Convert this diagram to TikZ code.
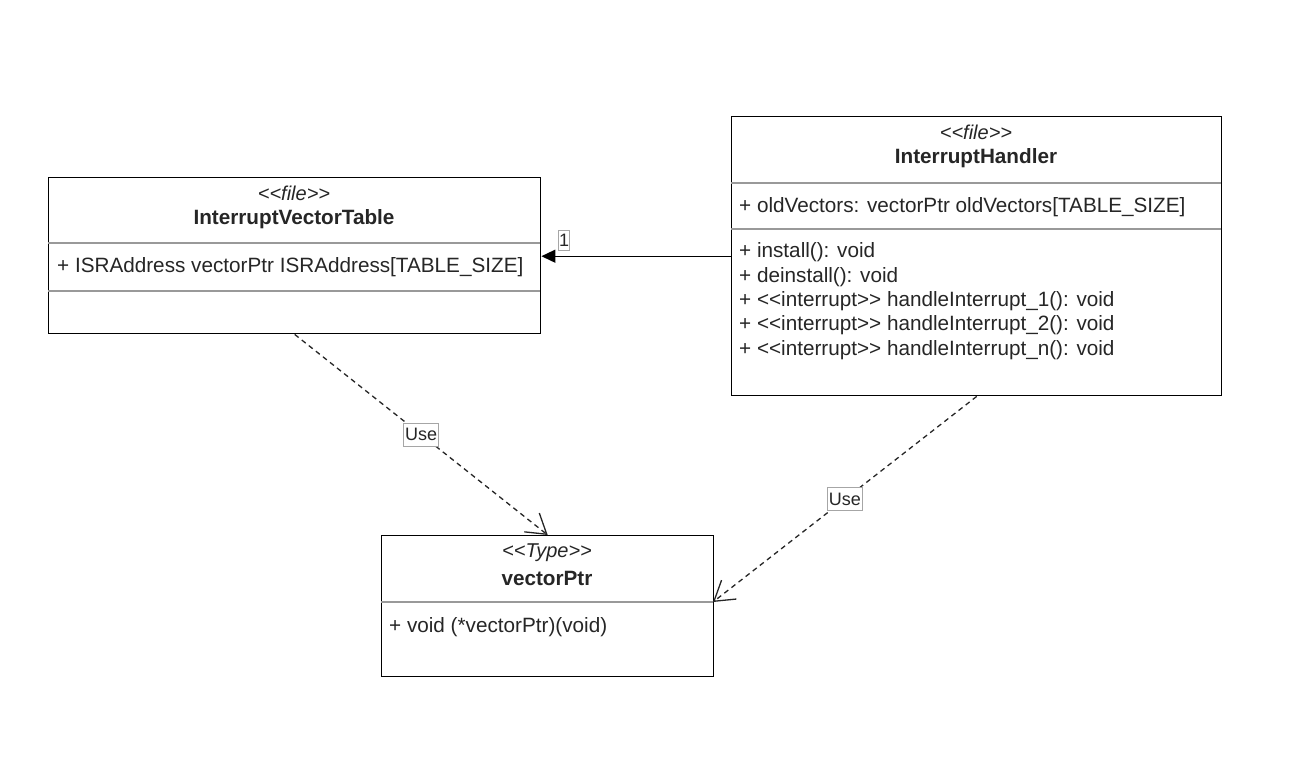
\documentclass[tikz,border=0pt]{standalone}
\usepackage{fontspec}
\setmainfont{Liberation Sans}
\usetikzlibrary{arrows.meta}
\newcommand\stopen{<\kern0pt<}
\newcommand\stclose{>\kern0pt>}
\begin{document}
\begin{tikzpicture}[x=1pt,y=-1pt,
  classbox/.style={draw=black, line width=1.4pt, fill=white, inner sep=0pt, anchor=north west},
  divider/.style={draw=black!40, line width=1.2pt},
  stereo/.style={inner sep=0pt, font=\fontsize{20}{24}\selectfont\itshape, text=black!85},
  cname/.style={inner sep=0pt, font=\fontsize{20.7}{25}\selectfont\bfseries, text=black!85},
  member/.style={inner sep=0pt, anchor=west, font=\fontsize{20.7}{25}\selectfont, text=black!85},
  edgelabel/.style={draw=black!35, solid, line width=0.8pt, fill=white, inner xsep=1.5pt, inner ysep=1pt,
     minimum height=23pt, font=\fontsize{18}{21}\selectfont, text=black!85},
  uses/.style={draw=black!85, line width=1.3pt, dash pattern=on 5pt off 4pt,
     -{Straight Barb[length=19pt, width=24pt, line width=1.3pt]}},
  assoc/.style={draw=black, line width=1.4pt, -{Triangle[length=14pt, width=13pt]}}
]
\useasboundingbox (0,0) rectangle (1297,761);

% InterruptVectorTable
\node[classbox, minimum width=492pt, minimum height=156pt] (ivt) at (48,177) {};
\draw[divider] (48,243) -- (540,243);
\draw[divider] (48,291) -- (540,291);
\node[stereo] (ivts) at (294,193) {\stopen file\stclose};
\node[cname] (ivtn) at (294,219) {InterruptVectorTable};
\node[member] (ivta) at (57,267) {+ ISRAddress vectorPtr ISRAddress[TABLE\_SIZE]};

% InterruptHandler
\node[classbox, minimum width=490pt, minimum height=279pt] (ih) at (731,116) {};
\draw[divider] (731,183) -- (1221,183);
\draw[divider] (731,229) -- (1221,229);
\node[stereo] (ihs) at (976,132) {\stopen file\stclose};
\node[cname] (ihn) at (976,158) {InterruptHandler};
\node[member] (iha) at (739,207) {+ oldVectors: vectorPtr oldVectors[TABLE\_SIZE]};
\node[member] (ihm1) at (739,252) {+ install(): void};
\node[member] (ihm2) at (739,277) {+ deinstall(): void};
\node[member] (ihm3) at (739,301) {+ \stopen interrupt\stclose{} handleInterrupt\_1(): void};
\node[member] (ihm4) at (739,325) {+ \stopen interrupt\stclose{} handleInterrupt\_2(): void};
\node[member] (ihm5) at (739,350) {+ \stopen interrupt\stclose{} handleInterrupt\_n(): void};

% vectorPtr
\node[classbox, minimum width=332pt, minimum height=141pt] (vp) at (381,535) {};
\draw[divider] (381,602) -- (713,602);
\node[stereo] (vps) at (547,553) {\stopen Type\stclose};
\node[cname] (vpn) at (547,578) {vectorPtr};
\node[member] (vpa) at (389,627) {+ void (*vectorPtr)(void)};

% connectors
\draw[assoc] (ih.west) -- (ih.west -| ivt.east);
\node[edgelabel, minimum height=20pt, inner xsep=0.3pt] (one) at (564,240) {1};

\coordinate (vpr) at (713,602);
\draw[uses] (ivt.south) -- node[edgelabel] (use1) {Use} (vp.north);
\draw[uses] (ih.south) -- node[edgelabel] (use2) {Use} (vpr);
\end{tikzpicture}
\end{document}
